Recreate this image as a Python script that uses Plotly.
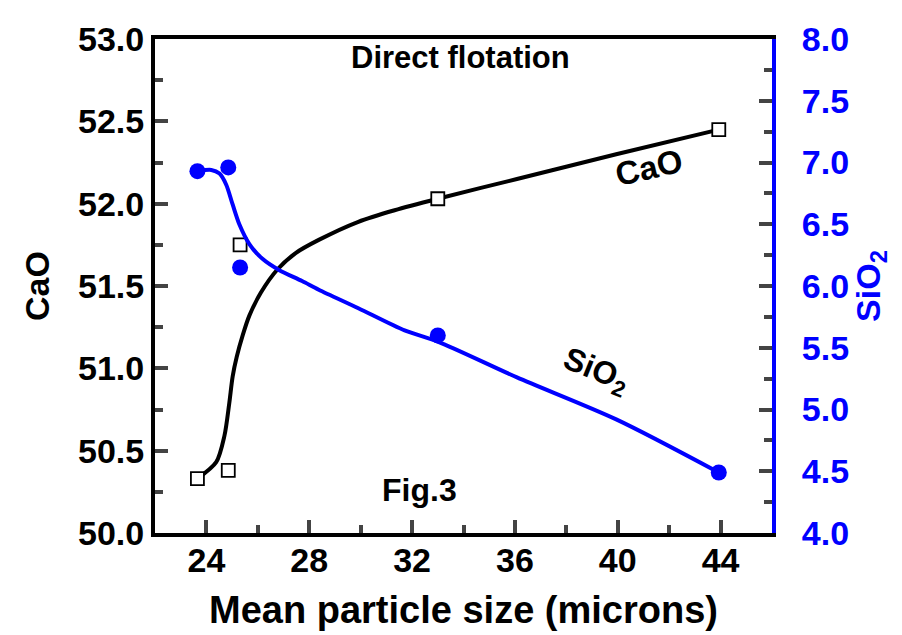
import plotly.graph_objects as go

# measured points
size_pts = [23.65, 24.85, 25.31, 33.0, 43.93]
cao_pts = [50.33, 50.38, 51.75, 52.03, 52.45]
sio2_pts = [6.93, 6.96, 6.15, 5.60, 4.49]

# smoothed fit curves
cao_fit_x = [23.65, 24.38, 24.70, 24.89, 25.02, 25.18, 25.41, 25.67, 26.12, 26.76, 27.47, 28.37, 29.91, 31.32, 33.0, 36.08, 39.94, 43.93]
cao_fit_y = [50.33, 50.43, 50.59, 50.79, 50.95, 51.07, 51.20, 51.32, 51.46, 51.60, 51.70, 51.78, 51.89, 51.96, 52.03, 52.15, 52.30, 52.45]
sio2_fit_x = [23.67, 24.19, 24.51, 24.77, 25.02, 25.28, 25.67, 26.18, 26.82, 27.72, 28.37, 29.91, 31.71, 33.0, 36.08, 39.94, 43.93]
sio2_fit_y = [6.93, 6.94, 6.91, 6.82, 6.66, 6.50, 6.34, 6.22, 6.13, 6.04, 5.97, 5.82, 5.64, 5.55, 5.26, 4.92, 4.49]

x_ticks = [24, 28, 32, 36, 40, 44]
cao_ticks = [50.0, 50.5, 51.0, 51.5, 52.0, 52.5, 53.0]
sio2_ticks = [4.0, 4.5, 5.0, 5.5, 6.0, 6.5, 7.0, 7.5, 8.0]

BLUE = "#0000ff"
FONT = "Liberation Sans"
TICK_SIZE = 34
TITLE_SIZE = 34

fig = go.Figure()
fig.add_trace(go.Scatter(x=sio2_fit_x, y=sio2_fit_y, mode="lines", yaxis="y2",
                         line=dict(color=BLUE, width=4, shape="spline", smoothing=0.8),
                         showlegend=False, hoverinfo="skip"))
fig.add_trace(go.Scatter(x=size_pts, y=sio2_pts, mode="markers", yaxis="y2",
                         marker=dict(color=BLUE, size=16, symbol="circle"), showlegend=False))
fig.add_trace(go.Scatter(x=cao_fit_x, y=cao_fit_y, mode="lines",
                         line=dict(color="black", width=4, shape="spline", smoothing=0.8),
                         showlegend=False, hoverinfo="skip"))
fig.add_trace(go.Scatter(x=size_pts, y=cao_pts, mode="markers",
                         marker=dict(color="white", size=13, symbol="square",
                                     line=dict(color="black", width=1.8)), showlegend=False))

def tf(color="black", size=TICK_SIZE):
    return dict(family=FONT, size=size, color=color, weight="bold")

fig.update_layout(
    width=902, height=635,
    margin=dict(l=147, r=138, t=19, b=110),
    paper_bgcolor="white", plot_bgcolor="white",
    showlegend=False,
    xaxis=dict(range=[22, 46], tickvals=x_ticks, ticks="inside", ticklen=13, tickwidth=4,
               minor=dict(ticks="inside", ticklen=8, tickwidth=4, dtick=2, tick0=0),
               showline=True, linewidth=4, linecolor="black", mirror=True,
               showgrid=False, zeroline=False, tickfont=tf(),
               ticklabelstandoff=-6, ticklabeloverflow="allow",
               title=dict(text="Mean particle size (microns)", font=tf(size=38), standoff=20)),
    yaxis=dict(range=[50, 53], tickvals=cao_ticks, tickformat=".1f", ticks="inside",
               ticklen=13, tickwidth=4,
               minor=dict(ticks="inside", ticklen=8, tickwidth=4, dtick=0.25, tick0=50),
               showline=True, linewidth=4, linecolor="black",
               showgrid=False, zeroline=False, tickfont=tf(),
               ticklabelstandoff=0, ticklabeloverflow="allow",
               title=dict(text="CaO", font=tf(size=TITLE_SIZE), standoff=19)),
    yaxis2=dict(range=[4, 8], tickvals=sio2_ticks, tickformat=".1f", overlaying="y", side="right",
                ticks="inside", ticklen=13, tickwidth=4,
                minor=dict(ticks="inside", ticklen=8, tickwidth=4, dtick=0.25, tick0=4),
                showline=True, linewidth=4, linecolor=BLUE,
                showgrid=False, zeroline=False, tickfont=tf(BLUE),
                ticklabelstandoff=19, ticklabeloverflow="allow",
                title=dict(text="SiO<sub>2</sub>", font=tf(BLUE, TITLE_SIZE), standoff=0)),
    font=dict(family=FONT, color="black"),
)

fig.add_annotation(text="Direct flotation", x=0.495, y=0.962, xref="paper", yref="paper",
                   xanchor="center", yanchor="middle",
                   showarrow=False, font=tf(size=31))
fig.add_annotation(text="Fig.3", x=32.3, y=50.26, xref="x", yref="y",
                   showarrow=False, font=tf(size=32))
fig.add_annotation(text="CaO", x=41.2, y=52.22, xref="x", yref="y", textangle=-13,
                   showarrow=False, font=tf(size=33))
fig.add_annotation(text="SiO<sub>2</sub>", x=39.15, y=50.98, xref="x", yref="y", textangle=22,
                   showarrow=False, font=tf(size=32))

fig.write_html("out.html")
